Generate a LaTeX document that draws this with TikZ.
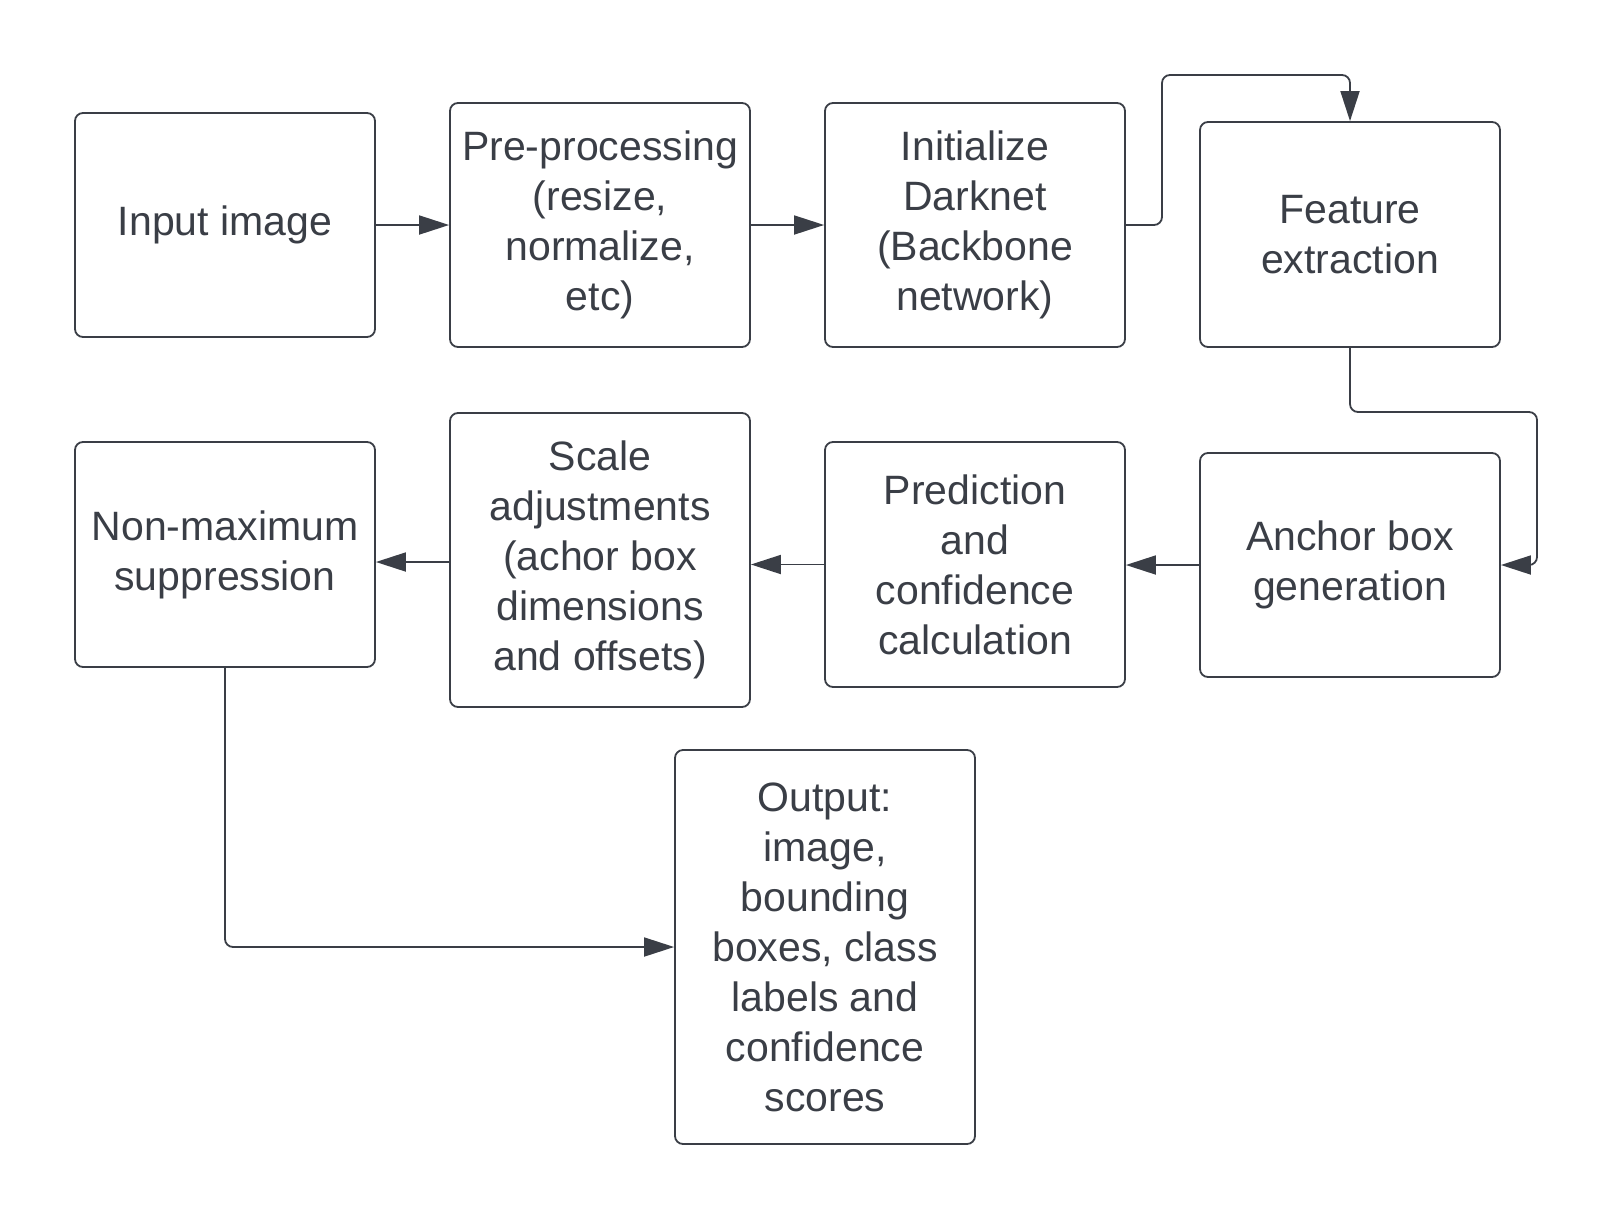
\documentclass[tikz,border=0pt]{standalone}
\usepackage{fontspec}
\setmainfont{Liberation Sans}
\usetikzlibrary{arrows.meta}
\definecolor{ink}{HTML}{3A3E46}
\begin{document}
\begin{tikzpicture}[x=1pt,y=-1pt,
  box/.style={draw=ink, line width=1.8pt, rounded corners=8pt, fill=white,
    minimum width=300pt, align=center, text=ink,
    font=\fontsize{41}{50}\selectfont, inner sep=0pt},
  conn/.style={draw=ink, line width=1.8pt, rounded corners=8pt,
    -{Triangle[length=30pt,width=19pt]}}]
\useasboundingbox (0,0) rectangle (1613,1221);
\node[box, minimum height=224pt] (inp) at (225,225) {Input image};
\node[box, minimum height=244pt] (pre) at (600,225) {Pre-processing\\(resize,\\normalize,\\etc)};
\node[box, minimum height=244pt] (dark) at (975,225) {Initialize\\Darknet\\(Backbone\\network)};
\node[box, minimum height=225pt] (feat) at (1350,234.5) {Feature\\extraction};
\node[box, minimum height=224pt] (anc) at (1350,565) {Anchor box\\generation};
\node[box, minimum height=245pt] (pred) at (975,564.5) {Prediction\\and\\confidence\\calculation};
\node[box, minimum height=294pt] (scale) at (600,560) {Scale\\adjustments\\(achor box\\dimensions\\and offsets)};
\node[box, minimum height=225pt] (nms) at (225,554.5) {Non-maximum\\suppression};
\node[box, minimum height=394pt] (out) at (825,947) {Output:\\image,\\bounding\\boxes, class\\labels and\\confidence\\scores};
\coordinate (c1) at (1162,75);
\coordinate (c2) at (1537,412);
\coordinate (c3) at (225,947);
\draw[conn] (inp.east) -- (pre.west);
\draw[conn] (pre.east) -- (dark.west);
\draw[conn] (dark.east) -| (c1) -| (feat.north);
\draw[conn] (feat.south) |- (c2) |- (anc.east);
\draw[conn] (anc.west) -- (pred.east |- anc.west);
\draw[conn] (pred.west) -- (scale.east |- pred.west);
\draw[conn] (scale.west |- 0,562) -- (nms.east |- 0,562);
\draw[conn] (nms.south) |- (out.west |- c3);
\end{tikzpicture}
\end{document}
